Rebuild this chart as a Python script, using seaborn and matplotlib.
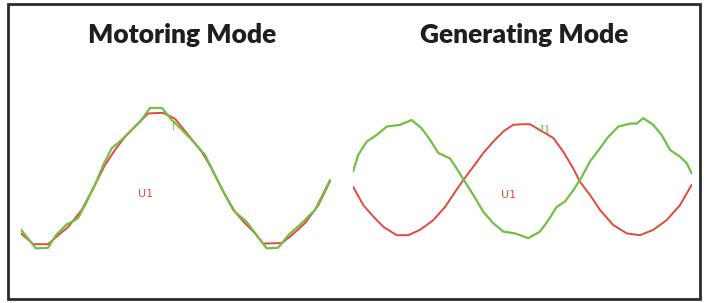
import numpy as np
import seaborn as sns
import matplotlib.pyplot as plt
from matplotlib.patches import Rectangle

# ---- datos (t en ms, valores normalizados) ----
# Modo motor
mot_t_u = [0.0, 1.06, 2.33, 3.22, 4.08, 5.23, 6.38, 7.24, 8.10, 8.97, 9.97, 10.97,
           12.24, 13.28, 14.42, 15.58, 16.44, 17.30, 18.30, 19.31, 20.17, 20.89,
           22.50, 23.34, 24.48, 25.63, 26.64]
mot_u1 = [-0.89, -1.07, -1.07, -0.92, -0.78, -0.50, -0.08, 0.25, 0.50, 0.72, 0.92, 1.11,
          1.12, 1.02, 0.75, 0.47, 0.19, -0.14, -0.50, -0.72, -0.89, -1.06,
          -1.05, -0.92, -0.72, -0.42, -0.02]

mot_t_i = [0.0, 1.29, 2.33, 3.02, 3.88, 4.89, 5.52, 6.38, 7.09, 7.82, 8.68, 9.40, 10.26,
           11.12, 12.16, 12.99, 13.28, 14.57, 15.86, 16.72, 17.59, 18.45, 19.46, 20.32,
           21.18, 22.16, 23.04, 24.20, 25.34, 26.64]
mot_i1 = [-0.83, -1.14, -1.13, -0.92, -0.75, -0.64, -0.42, -0.08, 0.25, 0.53, 0.67, 0.81, 0.97,
          1.20, 1.20, 1.00, 0.95, 0.70, 0.42, 0.08, -0.25, -0.53, -0.70, -0.92,
          -1.14, -1.13, -0.92, -0.72, -0.50, 0.0]

# Modo generador
gen_t_u = [0.0, 0.90, 1.77, 2.64, 3.80, 4.81, 5.83, 6.98, 8.00, 8.87, 9.59, 10.46, 11.33,
           12.20, 13.07, 13.94, 14.81, 15.39, 16.26, 17.42, 18.29, 19.16, 19.74, 20.61,
           21.48, 22.63, 23.80, 24.96, 26.11, 27.27, 28.43, 29.45]
gen_u1 = [-0.11, -0.42, -0.61, -0.78, -0.92, -0.92, -0.83, -0.67, -0.45, -0.20, 0.0, 0.22, 0.45,
          0.64, 0.81, 0.92, 0.93, 0.93, 0.83, 0.70, 0.47, 0.19, -0.03, -0.25,
          -0.50, -0.75, -0.89, -0.92, -0.83, -0.67, -0.42, -0.08]

gen_t_i = [0.0, 0.46, 1.19, 2.06, 2.93, 4.09, 5.10, 5.97, 6.70, 7.42, 8.43, 9.02, 9.74,
           10.46, 11.33, 12.20, 13.07, 14.09, 14.81, 15.24, 16.26, 16.98, 17.71, 18.43,
           19.16, 19.89, 20.61, 21.48, 22.20, 23.07, 24.09, 24.67, 25.24, 26.11, 26.84,
           27.57, 28.43, 29.02, 29.45]
gen_i1 = [0.14, 0.42, 0.64, 0.75, 0.89, 0.92, 1.00, 0.86, 0.67, 0.45, 0.36, 0.19, -0.03,
          -0.25, -0.53, -0.72, -0.86, -0.89, -0.94, -0.97, -0.86, -0.67, -0.45, -0.36,
          -0.17, 0.05, 0.31, 0.53, 0.72, 0.89, 0.94, 0.94, 1.03, 0.92, 0.75,
          0.50, 0.39, 0.28, 0.11]

titulos = ["Motoring Mode", "Generating Mode"]

ROJO = "#e2483f"
VERDE = "#72bf44"


def main():
    sns.set_theme(style="white")
    plt.rcParams['font.family'] = ['Lato', 'DejaVu Sans']

    fig = plt.figure(figsize=(7.08, 3.03), dpi=100)

    # marco exterior
    fig.patches.append(Rectangle((8 / 708, 4 / 303), 692 / 708, 295 / 303,
                                 transform=fig.transFigure, fill=False,
                                 edgecolor="#2b2b2b", linewidth=2.0))

    ax1 = fig.add_axes([21 / 708, 43 / 303, 311 / 708, 160 / 303])
    ax2 = fig.add_axes([353 / 708, 43 / 303, 339 / 708, 160 / 303])

    sns.lineplot(x=mot_t_u, y=mot_u1, ax=ax1, color=ROJO, linewidth=1.4, sort=False)
    sns.lineplot(x=mot_t_i, y=mot_i1, ax=ax1, color=VERDE, linewidth=1.6, sort=False)
    sns.lineplot(x=gen_t_u, y=gen_u1, ax=ax2, color=ROJO, linewidth=1.4, sort=False)
    sns.lineplot(x=gen_t_i, y=gen_i1, ax=ax2, color=VERDE, linewidth=1.6, sort=False)

    ax1.set_xlim(0, 311 / 11.6)
    ax2.set_xlim(0, 339 / 11.5)
    for ax in (ax1, ax2):
        ax.set_ylim(-4 / 3, 4 / 3)
        ax.axis("off")

    # etiquetas de canal
    ax1.text(10.73, -0.24, "U1", color=ROJO, fontsize=8, ha="center", va="center",
             family=["DejaVu Sans"])
    ax1.text(13.1, 0.88, "I", color=VERDE, fontsize=7, ha="center", va="center",
             family=["Liberation Serif"])
    ax2.text(13.57, -0.25, "U1", color=ROJO, fontsize=8, ha="center", va="center",
             family=["DejaVu Sans"])
    ax2.text(16.7, 0.83, "I1", color=VERDE, fontsize=9.5, ha="center", va="center",
             family=["Liberation Serif"])

    # titulos
    fig.text(182 / 708, 1 - 43 / 303, titulos[0], ha="center", va="baseline",
             fontsize=19, fontweight="heavy", color="#1e1e1e")
    fig.text(524.5 / 708, 1 - 43 / 303, titulos[1], ha="center", va="baseline",
             fontsize=19, fontweight="heavy", color="#1e1e1e")

    fig.savefig("out.png", dpi=100)
    plt.close(fig)


if __name__ == '__main__':
    main()
